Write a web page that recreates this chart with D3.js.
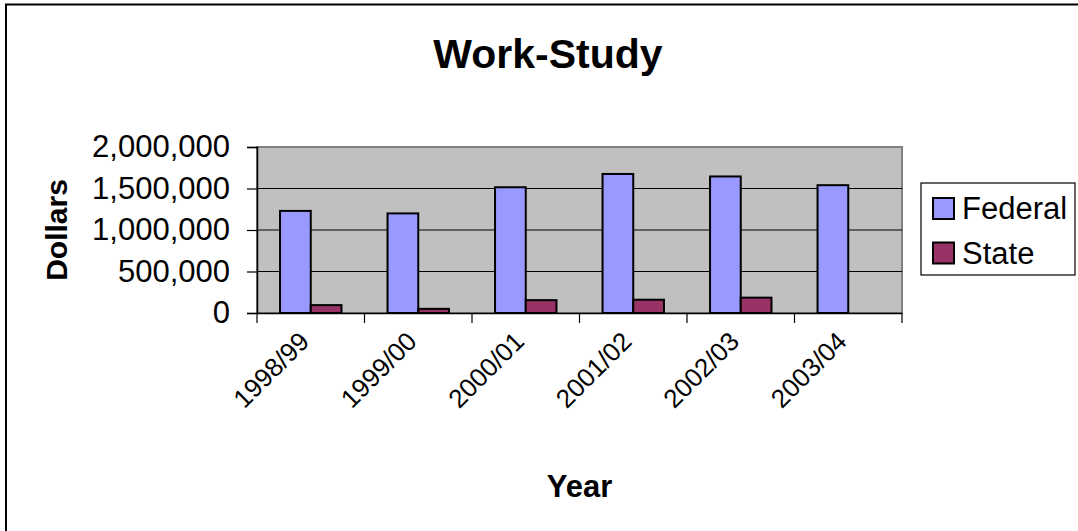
<!DOCTYPE html>
<html>
<head>
<meta charset="utf-8">
<script src="https://d3js.org/d3.v7.min.js"></script>
<style>
  body { margin: 0; background: #fff; }
  text { font-family: "Liberation Sans", Arial, sans-serif; }
</style>
</head>
<body>
<script>
const years = ["1998/99", "1999/00", "2000/01", "2001/02", "2002/03", "2003/04"];
const federal = [1230000, 1200000, 1515000, 1675000, 1645000, 1540000];
const state = [95000, 50000, 155000, 160000, 185000, null];
const seriesNames = ["Federal", "State"];
const seriesColors = ["#9999ff", "#993366"];
const yTicks = [0, 500000, 1000000, 1500000, 2000000];

const W = 1078, H = 531;
const plot = {left: 257, right: 902, top: 147, bottom: 313};

const svg = d3.select("body").append("svg")
  .attr("width", W)
  .attr("height", H);

// outer chart border (runs off the right and bottom edge)
svg.append("rect")
  .attr("x", 6).attr("y", 4.5)
  .attr("width", W + 20).attr("height", H + 20)
  .attr("fill", "white")
  .attr("stroke", "black")
  .attr("stroke-width", 2);

const x = d3.scaleBand()
  .domain(years)
  .range([plot.left, plot.right])
  .padding(0);

const xs = d3.scaleBand()
  .domain(seriesNames)
  .range([0, x.bandwidth()])
  .paddingInner(0)
  .paddingOuter(0.75);

const y = d3.scaleLinear()
  .domain([0, 2000000])
  .range([plot.bottom, plot.top]);

// plot area
svg.append("rect")
  .attr("x", plot.left).attr("y", plot.top)
  .attr("width", plot.right - plot.left)
  .attr("height", plot.bottom - plot.top)
  .attr("fill", "#c0c0c0")
  .attr("stroke", "#808080")
  .attr("stroke-width", 2);

// gridlines
svg.append("g")
  .selectAll("line")
  .data(yTicks.filter(d => d > 0 && d < 2000000))
  .join("line")
    .attr("x1", plot.left).attr("x2", plot.right)
    .attr("y1", d => y(d)).attr("y2", d => y(d))
    .attr("stroke", "black")
    .attr("stroke-width", 1.2);

// bars
const rows = years.map((yr, i) => ({year: yr, vals: [federal[i], state[i]]}));
const grp = svg.append("g").selectAll("g")
  .data(rows)
  .join("g")
    .attr("transform", d => "translate(" + x(d.year) + ",0)");
grp.selectAll("rect")
  .data(d => d.vals.map((v, j) => ({name: seriesNames[j], v: v, c: seriesColors[j]})).filter(e => e.v != null))
  .join("rect")
    .attr("x", d => xs(d.name))
    .attr("y", d => y(d.v))
    .attr("width", xs.bandwidth())
    .attr("height", d => plot.bottom - y(d.v))
    .attr("fill", d => d.c)
    .attr("stroke", "black")
    .attr("stroke-width", 2);

// y axis
const yAxis = svg.append("g")
  .attr("transform", "translate(" + plot.left + ",0)")
  .call(d3.axisLeft(y).tickValues(yTicks).tickFormat(d3.format(",")).tickSize(10).tickPadding(17));
yAxis.select(".domain").attr("stroke", "black").attr("stroke-width", 1.5);
yAxis.selectAll(".tick line").attr("stroke", "black").attr("stroke-width", 1.2);
yAxis.selectAll("text")
  .attr("font-size", 31)
  .attr("font-family", "Liberation Sans, Arial, sans-serif")
  .attr("fill", "black");

// x axis
const xAxis = svg.append("g")
  .attr("transform", "translate(0," + plot.bottom + ")")
  .call(d3.axisBottom(x).tickSize(0).tickFormat(""));
xAxis.select(".domain").attr("stroke", "black").attr("stroke-width", 1.5);
xAxis.selectAll(".tick line").remove();
svg.append("g")
  .selectAll("line")
  .data(years.concat(["end"]))
  .join("line")
    .attr("x1", (d, i) => i < years.length ? x(d) : x.range()[1])
    .attr("x2", (d, i) => i < years.length ? x(d) : x.range()[1])
    .attr("y1", plot.bottom).attr("y2", plot.bottom + 10)
    .attr("stroke", "black")
    .attr("stroke-width", 1.2);

svg.append("g")
  .selectAll("text")
  .data(years)
  .join("text")
    .text(d => d)
    .attr("transform", d => "translate(" + (x(d) + x.bandwidth() / 2 - 13) + "," + (plot.bottom + 17) + ") rotate(-45)")
    .attr("text-anchor", "end")
    .attr("dy", "0.71em")
    .attr("font-size", 26);

// titles
svg.append("text")
  .text("Work-Study")
  .attr("x", 548).attr("y", 68)
  .attr("text-anchor", "middle")
  .attr("font-size", 41)
  .attr("font-weight", "bold");

svg.append("text")
  .text("Year")
  .attr("x", (plot.left + plot.right) / 2).attr("y", 497)
  .attr("text-anchor", "middle")
  .attr("font-size", 31)
  .attr("font-weight", "bold");

svg.append("text")
  .text("Dollars")
  .attr("transform", "translate(67," + ((plot.top + plot.bottom) / 2) + ") rotate(-90)")
  .attr("text-anchor", "middle")
  .attr("font-size", 30)
  .attr("font-weight", "bold");

// legend
const leg = svg.append("g").attr("transform", "translate(921,183)");
leg.append("rect")
  .attr("width", 154).attr("height", 92)
  .attr("fill", "white")
  .attr("stroke", "black")
  .attr("stroke-width", 1.2);
const li = leg.selectAll("g.item")
  .data(seriesNames)
  .join("g")
    .attr("class", "item")
    .attr("transform", (d, i) => "translate(12," + (15 + i * 44.5) + ")");
li.append("rect")
  .attr("width", 21).attr("height", 21)
  .attr("fill", (d, i) => seriesColors[i])
  .attr("stroke", "black")
  .attr("stroke-width", 2);
li.append("text")
  .text(d => d)
  .attr("x", 29).attr("y", 21)
  .attr("font-size", 31);
</script>
</body>
</html>
